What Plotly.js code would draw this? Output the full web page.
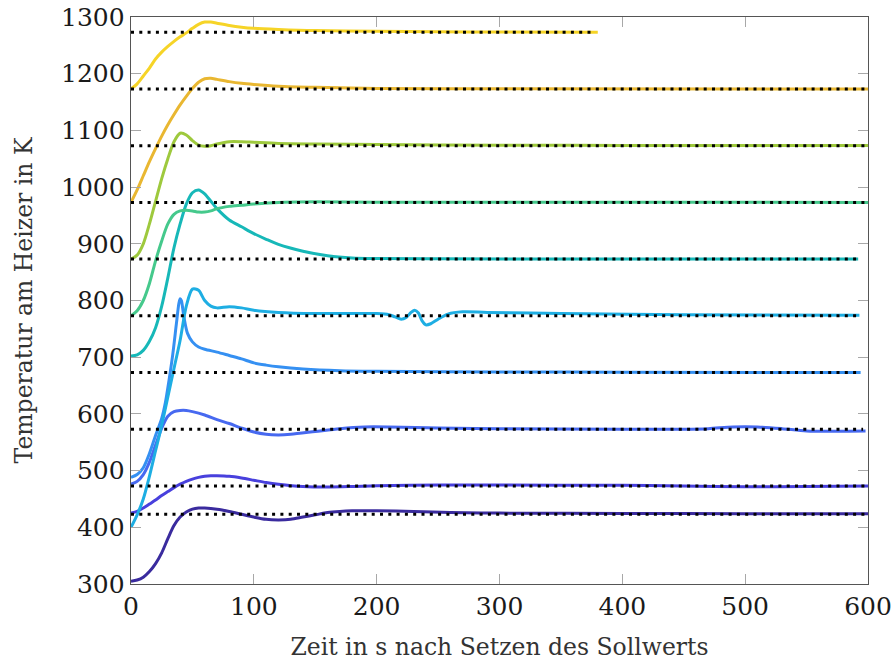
<!DOCTYPE html>
<html>
<head>
<meta charset="utf-8">
<script src="https://cdn.plot.ly/plotly-3.0.1.min.js"></script>
<style>
  html, body { margin: 0; padding: 0; background: #ffffff; }
  #chart { width: 896px; height: 663px; }
</style>
</head>
<body>
<div id="chart"></div>
<script>
// Heater temperature step responses, one run per setpoint (K over s).
const setpoints = [423, 473, 573, 673, 773, 873, 973, 1073, 1173, 1273];
const setpointEnd = [600, 600, 596, 594, 593, 592, 600, 600, 600, 378];
const colors = ['#3a2b9e', '#4840dd', '#4769f0', '#3590f2', '#1eaee3',
                '#17b8b8', '#45c98c', '#9ec93d', '#e9b731', '#f6d427'];

const t423 = [0, 5, 10, 15, 20, 25, 30, 35, 40, 45, 50, 55, 60, 70, 80, 90, 100, 110, 120, 130, 140, 150, 160, 170, 180, 200, 230, 260, 300, 400, 500, 600];
const T423 = [305, 307, 312, 322, 336, 355, 380, 403, 418, 427, 432, 434, 434, 432, 428, 423, 418, 414, 413, 414, 418, 422, 426, 428, 429, 429, 428, 426, 425, 424.5, 424, 424];

const t473 = [0, 5, 10, 15, 20, 25, 30, 35, 40, 45, 50, 55, 60, 65, 70, 80, 90, 100, 110, 120, 140, 160, 180, 200, 250, 300, 400, 450, 500, 550, 600];
const T473 = [425, 428, 434, 441, 448, 456, 463, 470, 476, 481, 485, 488, 490, 491, 491, 490, 487, 483, 479, 476, 472, 471, 472, 473.5, 474.5, 474.5, 474, 473, 471.5, 472, 473];

const t573 = [0, 5, 10, 15, 20, 25, 30, 35, 40, 45, 50, 60, 70, 80, 90, 100, 110, 120, 130, 150, 170, 190, 210, 250, 300, 400, 450, 470, 490, 510, 530, 550, 575, 598];
const T573 = [476, 481, 493, 515, 545, 575, 596, 604, 606, 606, 604, 598, 590, 583, 575, 568, 564, 563, 564, 569, 574, 577, 577, 575, 574, 573, 573, 574, 577, 577, 574, 570, 569.5, 570];

const t673 = [0, 5, 10, 15, 20, 25, 28, 31, 34, 37, 39, 40, 41, 43, 46, 50, 55, 60, 70, 80, 90, 100, 110, 120, 140, 170, 200, 300, 400, 594];
const T673 = [488, 493, 505, 530, 562, 592, 620, 660, 705, 760, 795, 803, 800, 772, 742, 727, 718, 714, 709, 703, 697, 690, 686, 683, 679, 676, 675, 674, 673.5, 673];

const t773 = [0, 5, 10, 15, 20, 25, 30, 35, 40, 45, 50, 55, 60, 65, 70, 80, 90, 100, 120, 150, 200, 210, 215, 220, 224, 228, 231, 234, 237, 240, 244, 250, 258, 270, 290, 350, 450, 593];
const T773 = [400, 422, 450, 490, 535, 580, 630, 680, 730, 790, 820, 818, 800, 790, 787, 789, 787, 783, 779, 777, 777, 775, 771, 767, 770, 779, 783, 778, 764, 757, 759, 767, 776, 780, 779, 777, 775, 774];

const t873 = [0, 5, 10, 15, 20, 25, 30, 35, 40, 45, 50, 55, 60, 65, 70, 80, 90, 100, 110, 120, 140, 160, 180, 200, 250, 592];
const T873 = [702, 704, 712, 728, 752, 790, 840, 893, 935, 970, 990, 995, 988, 975, 962, 942, 930, 918, 908, 899, 887, 879, 875, 874, 873.5, 873];

const t973 = [0, 5, 10, 15, 20, 25, 30, 35, 40, 45, 50, 55, 60, 65, 70, 80, 90, 100, 120, 150, 200, 600];
const T973 = [773, 782, 800, 830, 870, 905, 935, 952, 958, 959, 958, 956, 956, 958, 962, 966, 968, 970, 973, 974, 973.5, 973];

const t1073 = [0, 5, 10, 15, 20, 25, 30, 35, 40, 45, 50, 55, 60, 65, 70, 80, 90, 100, 120, 150, 200, 300, 400, 600];
const T1073 = [873, 880, 900, 935, 975, 1015, 1050, 1080, 1095, 1092, 1082, 1074, 1072, 1073, 1076, 1080, 1080, 1079, 1077, 1076, 1075, 1074, 1073.5, 1073.5];

const t1173 = [0, 5, 10, 15, 20, 25, 30, 35, 40, 45, 50, 55, 60, 65, 70, 80, 90, 100, 120, 150, 200, 300, 600];
const T1173 = [973, 995, 1020, 1045, 1068, 1090, 1110, 1128, 1145, 1160, 1174, 1185, 1191, 1192, 1190, 1186, 1183, 1181, 1178, 1176, 1174, 1173.5, 1173];

const t1273 = [0, 5, 10, 15, 20, 25, 30, 35, 40, 45, 50, 55, 60, 65, 70, 80, 90, 100, 120, 150, 200, 250, 300, 380];
const T1273 = [1173, 1182, 1196, 1210, 1226, 1238, 1248, 1257, 1265, 1272, 1280, 1287, 1291, 1291, 1289, 1285, 1282, 1280, 1278, 1276, 1275, 1274, 1273.5, 1273];

const runsT = [t423, t473, t573, t673, t773, t873, t973, t1073, t1173, t1273];
const runsK = [T423, T473, T573, T673, T773, T873, T973, T1073, T1173, T1273];

const xTicks = [0, 100, 200, 300, 400, 500, 600];
const yTicks = [300, 400, 500, 600, 700, 800, 900, 1000, 1100, 1200, 1300];

const traces = [];
runsT.forEach((t, i) => {
  traces.push({
    x: t, y: runsK[i], type: 'scatter', mode: 'lines',
    line: { color: colors[i], width: 3, shape: 'spline', smoothing: 0.8 },
    hoverinfo: 'skip', showlegend: false
  });
});
setpoints.forEach((s, i) => {
  traces.push({
    x: [0, setpointEnd[i]], y: [s, s], type: 'scatter', mode: 'lines',
    line: { color: '#000000', width: 3, dash: '3px,5.3px' },
    hoverinfo: 'skip', showlegend: false
  });
});

const fontFam = 'DejaVu Serif, serif';
const axisCommon = {
  showgrid: false, zeroline: false, showline: true, mirror: 'ticks',
  linecolor: '#555555', linewidth: 1.3,
  ticks: 'inside', ticklen: 10, tickwidth: 1, tickcolor: '#a8a8a8',
  tickfont: { family: fontFam, size: 25, color: '#1a1a1a' }
};

const layout = {
  width: 896, height: 663,
  margin: { l: 131, r: 28, t: 17, b: 79 },
  paper_bgcolor: '#ffffff', plot_bgcolor: '#ffffff',
  showlegend: false,
  xaxis: Object.assign({}, axisCommon, {
    range: [0, 600], tickvals: xTicks, ticktext: xTicks.map(String),
    title: { text: 'Zeit in s nach Setzen des Sollwerts', standoff: 18,
             font: { family: fontFam, size: 23.5, color: '#333333' } }
  }),
  yaxis: Object.assign({}, axisCommon, {
    range: [300, 1300], tickvals: yTicks, ticktext: yTicks.map(String),
    title: { text: 'Temperatur am Heizer in K', standoff: 22,
             font: { family: fontFam, size: 23.5, color: '#333333' } }
  })
};

Plotly.newPlot('chart', traces, layout, { staticPlot: true, displayModeBar: false });
</script>
</body>
</html>
